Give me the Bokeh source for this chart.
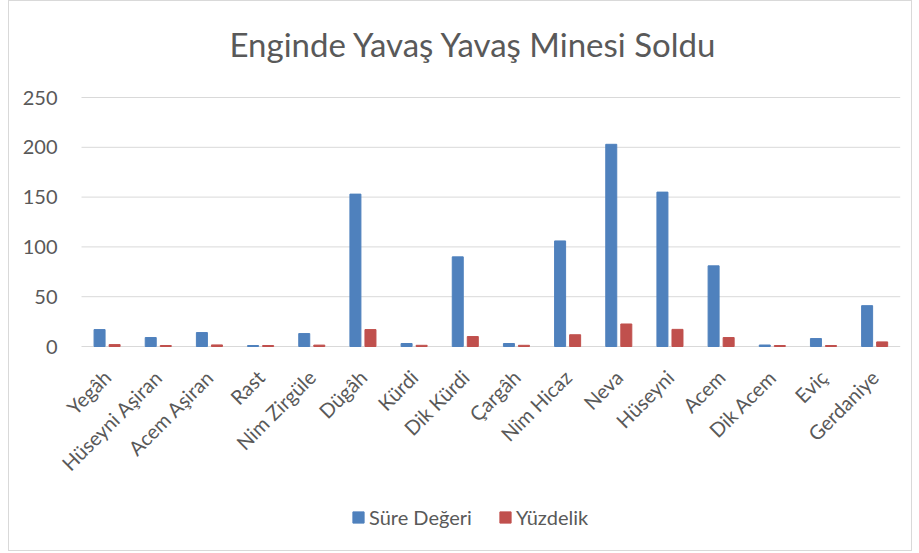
import math
from bokeh.plotting import figure
from bokeh.models import ColumnDataSource, Range1d, FixedTicker, Legend, LegendItem
from bokeh.transform import dodge
from bokeh.embed import file_html
from bokeh.resources import INLINE

categories = ["Yegâh", "Hüseyni Aşiran", "Acem Aşiran", "Rast", "Nim Zirgüle", "Dügâh",
              "Kürdi", "Dik Kürdi", "Çargâh", "Nim Hicaz", "Neva", "Hüseyni", "Acem",
              "Dik Acem", "Eviç", "Gerdaniye"]
sure_degeri = [17, 9, 14, 1, 13, 153, 3, 90, 3, 106, 203, 155, 81, 1.5, 8, 41]
yuzdelik = [1.9, 1.0, 1.6, 1.0, 1.4, 17.0, 1.2, 10.0, 1.2, 11.8, 22.6, 17.2, 9.0, 1.0, 1.0, 4.6]
y_ticks = [0, 50, 100, 150, 200, 250]

FONT = "Lato"
GREY = "#595959"
GRID = "#D9D9D9"

n = len(categories)
idx = list(range(n))

# layout (pixels): frame spans the whole chart box so the legend and the
# rotated labels can live inside it
FRAME_W, FRAME_H = 902, 467
PX_PER_CAT = 51.17
PX_PER_UNIT = 0.996
X_START = -0.5 - 72 / PX_PER_CAT
X_END = X_START + FRAME_W / PX_PER_CAT
Y_END = 250 + 14 / PX_PER_UNIT
Y_START = Y_END - FRAME_H / PX_PER_UNIT

src = ColumnDataSource(dict(idx=idx, sure=sure_degeri, yuz=yuzdelik))
grid_src = ColumnDataSource(dict(y=y_ticks, x0=[idx[0] - 0.5] * len(y_ticks),
                                 x1=[idx[-1] + 0.5] * len(y_ticks)))

p = figure(frame_width=FRAME_W, frame_height=FRAME_H,
           x_range=Range1d(X_START, X_END), y_range=Range1d(Y_START, Y_END),
           output_backend="svg", toolbar_location=None,
           min_border_left=0, min_border_right=0, min_border_top=0, min_border_bottom=0)
p.styles = {"border": "1px solid #D9D9D9", "margin-left": "8px"}
p.outline_line_color = None
p.xgrid.visible = False
p.ygrid.visible = False

p.title.text = "Enginde Yavaş Yavaş Minesi Soldu"
p.title.align = "left"
p.title.offset = 220
p.title.text_font = FONT
p.title.text_font_size = "33px"
p.title.text_font_style = "normal"
p.title.text_color = GREY
p.title.standoff = 40

p.segment(x0="x0", x1="x1", y0="y", y1="y", source=grid_src, line_color=GRID, line_width=1)

r1 = p.vbar(x=dodge("idx", -0.147), top="sure", width=0.215, source=src,
            fill_color="#4F81BD", line_color="#4F81BD")
r2 = p.vbar(x=dodge("idx", 0.147), top="yuz", width=0.215, source=src,
            fill_color="#C0504D", line_color="#C0504D")

p.yaxis.fixed_location = idx[0] - 0.5
p.yaxis.ticker = FixedTicker(ticks=y_ticks)
p.yaxis.axis_line_color = None
p.yaxis.major_tick_line_color = None
p.yaxis.minor_tick_line_color = None
p.yaxis.major_label_text_font = FONT
p.yaxis.major_label_text_font_size = "20px"
p.yaxis.major_label_text_color = GREY
p.yaxis.major_label_standoff = 18

p.xaxis.fixed_location = 0
p.xaxis.ticker = FixedTicker(ticks=idx)
p.xaxis.major_label_overrides = {i: c for i, c in zip(idx, categories)}
p.xaxis.axis_line_color = None
p.xaxis.major_tick_line_color = None
p.xaxis.minor_tick_line_color = None
p.xaxis.major_label_orientation = math.pi / 4
p.xaxis.major_label_text_font = FONT
p.xaxis.major_label_text_font_size = "20px"
p.xaxis.major_label_text_color = GREY
p.xaxis.major_label_standoff = 21

legend = Legend(items=[LegendItem(label="Süre Değeri", renderers=[r1]),
                       LegendItem(label="Yüzdelik", renderers=[r2])],
                orientation="horizontal", location=(342, 21))
legend.label_text_font = FONT
legend.label_text_font_size = "20px"
legend.label_text_color = GREY
legend.glyph_width = 14
legend.glyph_height = 14
legend.label_standoff = 4
legend.spacing = 26
legend.padding = 0
legend.margin = 0
legend.border_line_color = None
legend.background_fill_alpha = 0
p.add_layout(legend)

open("out.html", "w").write(file_html(p, INLINE))
